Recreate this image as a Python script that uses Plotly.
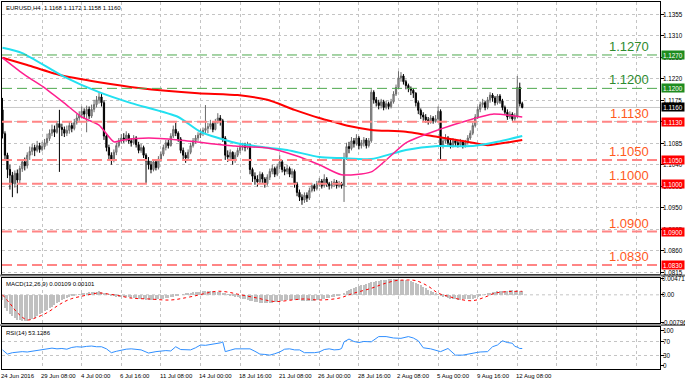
import plotly.graph_objects as go

# ---------------- data (prices in pips above 1.0900) ----------------
BASE = 1.0900
open0 = 255
close_p = [205,160,130,118,100,122,108,132,146,138,160,168,176,170,180,172,178,186,195,206,
           214,208,226,218,214,206,212,222,216,228,238,244,252,246,256,242,256,266,276,282,
           270,200,176,160,150,166,180,190,196,194,202,190,186,196,182,170,176,160,148,140,
           130,146,134,152,162,176,186,180,200,214,206,194,170,160,154,166,180,190,196,202,
           206,212,216,220,226,214,230,238,232,196,160,156,166,150,160,170,176,180,176,182,
           130,116,110,104,120,110,100,114,126,132,120,136,146,130,126,132,120,126,100,82,
           72,66,76,70,86,96,90,100,106,96,110,100,96,98,104,96,100,96,155,178,
           174,190,184,196,180,186,192,180,190,292,276,270,264,272,260,268,262,272,288,302,
           322,326,314,306,300,296,290,270,254,244,240,234,230,238,232,236,252,180,190,196,
           186,180,190,186,182,188,180,186,196,206,222,240,256,266,270,260,276,286,280,270,
           284,274,260,250,240,246,236,242,302,268,260]
high_p = [280,210,165,140,125,128,130,138,152,155,166,178,184,182,190,186,188,194,205,214,
          224,222,232,255,226,220,222,230,228,236,246,252,262,258,264,262,266,276,284,292,
          288,275,204,182,166,172,186,196,204,206,210,206,196,202,200,188,184,180,164,156,
          148,152,150,158,168,182,192,192,206,222,228,210,198,176,166,172,186,196,202,208,
          214,218,265,228,234,230,236,248,244,236,200,170,172,168,166,176,184,186,186,188,
          184,134,124,118,126,124,114,120,132,140,136,142,160,150,136,140,136,132,130,104,
          88,78,82,82,92,102,100,106,112,110,120,114,104,106,110,108,106,104,165,186,
          188,198,196,204,200,192,198,196,196,298,296,282,276,278,276,274,272,278,294,308,
          336,334,330,318,310,304,300,292,274,258,250,246,240,244,242,244,262,256,198,204,
          200,192,196,194,192,194,192,192,202,212,228,246,262,272,278,274,282,292,290,284,
          288,288,278,264,256,252,250,248,326,312,272]
low_p = [195,150,112,88,72,92,80,100,125,128,132,150,160,158,166,165,168,172,180,190,
         200,198,205,125,200,198,200,205,208,212,224,232,238,236,208,236,238,250,260,268,
         262,192,168,150,140,145,160,176,184,186,188,184,178,182,176,164,165,154,102,130,
         122,126,128,130,146,158,170,174,178,196,200,188,164,152,144,150,162,176,184,190,
         196,200,206,206,214,208,212,226,222,188,150,146,150,140,144,156,164,170,168,172,
         120,104,98,94,100,102,92,96,108,120,114,116,130,124,118,120,114,112,92,74,
         64,56,60,62,66,82,84,86,94,90,92,94,88,90,94,90,92,90,62,150,
         164,170,176,180,172,174,178,174,176,186,268,262,256,258,254,256,256,258,268,284,
         298,314,308,298,292,286,280,262,246,236,232,228,224,226,226,228,232,150,174,184,
         180,174,176,178,176,178,174,176,182,192,202,218,236,250,260,254,256,270,272,264,
         266,268,254,244,234,236,232,232,238,262,258]

# moving averages (bar index, pips above 1.0900)
ma_red_idx = [0, 10, 23, 39, 55, 79, 95, 107, 118, 128, 135, 140, 149, 163, 176, 190, 196, 210]
ma_red_val = [364, 349, 328, 313, 301, 290, 286, 276, 255, 238, 228, 221, 213, 209, 198, 186, 181, 192]
ma_cyan_idx = [0, 8, 25, 39, 52, 71, 80, 94, 105, 115, 128, 137, 149, 163, 176, 190, 200, 210]
ma_cyan_val = [385, 374, 324, 292, 269, 240, 209, 186, 177, 171, 156, 154, 152, 171, 179, 179, 188, 200]
ma_mag_idx = [0, 8, 12, 17, 25, 32, 39, 45, 49, 59, 71, 94, 107, 118, 128, 137, 149, 163, 176, 190, 198, 210]
ma_mag_val = [364, 332, 318, 301, 269, 240, 223, 188, 192, 196, 192, 179, 175, 160, 140, 119, 125, 186, 213, 236, 246, 240]

# MACD main (x1e-5) per bar
macd_main = [-150,-380,-480,-560,-620,-680,-720,-745,-760,-760,-750,-730,-710,-670,-620,-570,-520,-480,-440,-395,
             -350,-300,-250,-200,-150,-120,-90,-60,-40,-20,0,20,35,50,60,70,80,90,95,100,
             90,60,30,10,-10,-30,-50,-60,-60,-65,-70,-75,-80,-90,-100,-110,-120,-130,-140,-150,
             -150,-145,-140,-130,-120,-110,-95,-80,-65,-50,-30,-15,0,15,30,45,60,70,80,90,
             95,100,105,110,110,105,95,85,70,50,30,10,-10,-30,-50,-70,-90,-110,-130,-150,
             -170,-190,-205,-220,-230,-240,-245,-245,-240,-230,-215,-200,-185,-170,-155,-145,-140,-140,-145,-150,
             -160,-170,-180,-185,-185,-180,-170,-160,-145,-130,-115,-100,-85,-70,-55,-40,-20,0,50,100,
             140,170,190,220,250,280,300,320,340,360,380,400,410,420,430,440,450,455,455,450,
             450,445,435,425,415,390,360,340,320,280,240,200,150,110,80,50,20,-20,-50,-70,
             -90,-110,-125,-135,-140,-140,-135,-130,-125,-120,-110,-80,-50,-20,0,20,40,60,75,90,
             100,110,115,120,125,130,130,125,130,120,109]
sig_idx = [0,3,6,10,14,18,22,25,28,32,36,39,43,46,52,59,68,74,79,83,87,91,95,103,110,117,122,128,136,
           142,149,154,159,163,167,172,176,180,184,190,195,199,206,210]
sig_val = [0,-250,-520,-730,-650,-520,-330,-200,-110,-40,20,55,20,-10,-95,-120,-150,-85,-10,60,105,80,20,-95,-195,-150,-120,-150,-95,
           50,190,320,414,430,414,250,50,-40,-120,-170,-65,50,100,101]

# RSI(14)
rsi_idx = [0,2,4,6,8,10,12,14,16,18,20,22,24,26,28,30,32,34,36,38,40,42,44,46,48,50,52,54,56,58,59,62,64,66,68,70,72,74,
           76,78,80,82,84,86,88,89,90,92,94,96,98,100,102,104,106,108,110,112,114,116,118,120,122,124,126,128,130,132,134,136,137,
           138,140,142,144,146,148,149,152,155,158,161,164,166,168,170,173,175,176,177,180,183,186,188,190,192,193,196,198,200,202,204,206,207,208,209,210]
rsi_val = [46,34,38,40,41,40,42,44,46,47,51,49,50,48,53,55,54,56,57,55,55,49,38,42,46,48,49,47,46,40,37,41,43,44,43,55,47,46,
           46,52,60,59,61,63,66,69,41,45,49,49,48,49,42,34,33,31,35,40,48,49,46,46,38,37,38,40,47,49,46,47,50,
           69,77,70,67,70,68,69,84,84,80,79,84,80,72,52,49,46,44,41,50,31,31,34,38,39,40,41,55,60,72,67,65,56,54,50,50,69,62,53]

tick_vals = [1.1355, 1.1310, 1.1265, 1.1220, 1.1175, 1.1130, 1.1085, 1.1040, 1.0995, 1.0950, 1.0905, 1.0860, 1.0815]
levels_green = [1.1270, 1.1200]
levels_red = [1.1130, 1.1050, 1.1000, 1.0900, 1.0830]
bid = 1.1160
macd_ticks = [0.00471, 0.0, -0.00796]
macd_tick_text = ["0.00471", "0.00", "-0.00796"]
rsi_ticks = [100, 70, 30, 0]
time_idx = [0,16,32,48,64,80,96,112,128,144,160,176,192,208]
time_lbl = ["24 Jun 2016","29 Jun 08:00","4 Jul 00:00","6 Jul 16:00","11 Jul 08:00","14 Jul 00:00",
            "18 Jul 16:00","21 Jul 08:00","26 Jul 00:00","28 Jul 16:00","2 Aug 08:00","5 Aug 00:00",
            "9 Aug 16:00","12 Aug 08:00"]
grid_idx = [0,16,32,48,64,80,96,112,128,144,160,176,192,208,224,240,256]

# ---------------- build ----------------
n = len(close_p)
xs = list(range(n))
C = [BASE + v / 1e4 for v in close_p]
H = [BASE + v / 1e4 for v in high_p]
L = [BASE + v / 1e4 for v in low_p]
O = [BASE + open0 / 1e4] + C[:-1]
O[-1] = 1.1168

FONT = "Liberation Sans"
fig = go.Figure()
fig.add_trace(go.Candlestick(x=xs, open=O, high=H, low=L, close=C,
                             increasing=dict(line=dict(color="#6a6a6a", width=1), fillcolor="#b0b0b0"),
                             decreasing=dict(line=dict(color="#000000", width=1), fillcolor="#000000"),
                             whiskerwidth=0, xaxis="x", yaxis="y", showlegend=False, hoverinfo="skip"))
fig.add_trace(go.Scatter(x=ma_red_idx, y=[BASE + v / 1e4 for v in ma_red_val], mode="lines",
                         line=dict(color="#ff0000", width=2, shape="spline", smoothing=0.6), xaxis="x", yaxis="y"))
fig.add_trace(go.Scatter(x=ma_cyan_idx, y=[BASE + v / 1e4 for v in ma_cyan_val], mode="lines",
                         line=dict(color="#22e0f0", width=2, shape="spline", smoothing=0.6), xaxis="x", yaxis="y"))
fig.add_trace(go.Scatter(x=ma_mag_idx, y=[BASE + v / 1e4 for v in ma_mag_val], mode="lines",
                         line=dict(color="#ff1f8f", width=1.5, shape="spline", smoothing=0.6), xaxis="x", yaxis="y"))

fig.add_trace(go.Bar(x=xs, y=[v / 1e5 for v in macd_main], marker=dict(color="#c0c0c0", line=dict(width=0)),
                     width=0.42, xaxis="x2", yaxis="y2"))
fig.add_trace(go.Scatter(x=sig_idx, y=[v / 1e5 for v in sig_val], mode="lines",
                         line=dict(color="#ff0000", width=1, dash="dot", shape="spline"), xaxis="x2", yaxis="y2"))
fig.add_trace(go.Scatter(x=rsi_idx, y=rsi_val, mode="lines", line=dict(color="#2f8fff", width=1),
                         xaxis="x3", yaxis="y3"))

XR = [-0.2, 265.66]
gridc = "#c4c4c4"
xcommon = dict(range=XR, showticklabels=False, tickvals=grid_idx, showgrid=True, griddash="dot",
               gridcolor=gridc, gridwidth=1, zeroline=False, showline=True, linecolor="#000", mirror=True,
               ticks="", automargin=False)
ycommon = dict(side="right", showticklabels=False, zeroline=False, ticks="outside", ticklen=3,
               tickcolor="#000", showline=True, linecolor="#000", mirror=True, automargin=False)
fig.update_layout(
    width=685, height=383, margin=dict(l=2, r=25, t=2, b=14, autoexpand=False),
    paper_bgcolor="#ffffff", plot_bgcolor="#ffffff", showlegend=False, bargap=0,
    font=dict(family=FONT, size=6, color="#000"),
    xaxis=dict(anchor="y", rangeslider=dict(visible=False), **xcommon),
    xaxis2=dict(anchor="y2", matches="x", **xcommon),
    xaxis3=dict(anchor="y3", matches="x", **xcommon),
    yaxis=dict(domain=[0.25886, 1], range=[1.0811, 1.1381], tickvals=tick_vals,
               showgrid=True, griddash="dot", gridcolor=gridc, **ycommon),
    yaxis2=dict(domain=[0.12534, 0.24796], range=[-0.0082, 0.0049], tickvals=macd_ticks,
                showgrid=False, **ycommon),
    yaxis3=dict(domain=[0, 0.11444], range=[-8.6, 111.4], tickvals=rsi_ticks,
                showgrid=False, **ycommon),
)

shapes = []
for lv in levels_green:
    shapes.append(dict(type="line", xref="x", yref="y", x0=XR[0], x1=XR[1], y0=lv, y1=lv,
                       line=dict(color="#4ea84e", width=1, dash="10px,5px")))
for lv in levels_red:
    shapes.append(dict(type="line", xref="x", yref="y", x0=XR[0], x1=XR[1], y0=lv, y1=lv,
                       line=dict(color="#ff8585", width=2, dash="10px,5px")))
shapes.append(dict(type="line", xref="x", yref="y", x0=XR[0], x1=XR[1], y0=bid, y1=bid,
                   line=dict(color="#c8c8c8", width=1), layer="below"))
shapes.append(dict(type="line", xref="x2", yref="y2", x0=XR[0], x1=XR[1], y0=0, y1=0,
                   line=dict(color=gridc, width=1, dash="dot"), layer="below"))
for lv in [70, 30]:
    shapes.append(dict(type="line", xref="x3", yref="y3", x0=XR[0], x1=XR[1], y0=lv, y1=lv,
                       line=dict(color=gridc, width=1, dash="dot"), layer="below"))
for y0, y1 in [(0.2523, 0.2575), (0.1170, 0.1222)]:
    shapes.append(dict(type="rect", xref="paper", yref="paper", x0=-0.004, x1=1.04, y0=y0, y1=y1,
                       line=dict(width=0), fillcolor="#7a7a7a"))
fig.update_layout(shapes=shapes)

TF = dict(size=6.3, family=FONT, color="#000")
SF = dict(size=6, family=FONT, color="#000")
ann = []
for v in tick_vals:
    ann.append(dict(xref="paper", yref="y", x=1.0, y=v, xanchor="left", yanchor="middle", xshift=2,
                    text=f"{v:.4f}", showarrow=False, font=TF, borderpad=0))
for v, t in zip(macd_ticks, macd_tick_text):
    ann.append(dict(xref="paper", yref="y2", x=1.0, y=v, xanchor="left", yanchor="middle", xshift=1,
                    text=t, showarrow=False, font=TF, borderpad=0))
for v in rsi_ticks:
    ann.append(dict(xref="paper", yref="y3", x=1.0, y=v, xanchor="left", yanchor="middle", xshift=2,
                    text=str(v), showarrow=False, font=TF, borderpad=0))
for lv in levels_green:
    ann.append(dict(xref="paper", yref="y", x=0.987, y=lv, xanchor="right", yanchor="bottom", yshift=-1,
                    text=f"{lv:.4f}", showarrow=False, font=dict(size=13, color="#2e8b2e", family=FONT)))
    ann.append(dict(xref="paper", yref="y", x=1.0, y=lv, xanchor="left", yanchor="middle", xshift=1,
                    text=f"{lv:.4f}", showarrow=False, bgcolor="#1f8c1f", width=22, height=8, borderpad=0,
                    font=dict(size=6.3, color="#ffffff", family=FONT)))
for lv in levels_red:
    ann.append(dict(xref="paper", yref="y", x=0.987, y=lv, xanchor="right", yanchor="bottom", yshift=-1,
                    text=f"{lv:.4f}", showarrow=False, font=dict(size=13, color="#ff5a1e", family=FONT)))
    ann.append(dict(xref="paper", yref="y", x=1.0, y=lv, xanchor="left", yanchor="middle", xshift=1,
                    text=f"{lv:.4f}", showarrow=False, bgcolor="#ff0000", width=22, height=8, borderpad=0,
                    font=dict(size=6.3, color="#ffffff", family=FONT)))
ann.append(dict(xref="paper", yref="y", x=1.0, y=bid, xanchor="left", yanchor="middle", xshift=1,
                text=f"{bid:.4f}", showarrow=False, bgcolor="#000000", width=22, height=8, borderpad=0,
                font=dict(size=6.3, color="#ffffff", family=FONT)))
ann.append(dict(xref="paper", yref="paper", x=0, y=1, xanchor="left", yanchor="top", xshift=2, yshift=-1,
                text="EURUSD,H4  1.1168 1.1172 1.1158 1.1160", showarrow=False, font=SF))
ann.append(dict(xref="paper", yref="paper", x=0, y=0.24796, xanchor="left", yanchor="top", xshift=2, yshift=-1,
                text="MACD(12,26,9) 0.00109 0.00101", showarrow=False, font=SF))
ann.append(dict(xref="paper", yref="paper", x=0, y=0.11444, xanchor="left", yanchor="top", xshift=2, yshift=-1,
                text="RSI(14) 53.1286", showarrow=False, font=SF))
for i, t in zip(time_idx, time_lbl):
    ann.append(dict(xref="x3", yref="paper", x=i, y=0, xanchor="left", yanchor="middle", xshift=-2, yshift=-7,
                    text=t, showarrow=False, font=SF, borderpad=0))
fig.update_layout(annotations=ann)

fig.write_html("out.html", config={"displayModeBar": False},
               post_script="document.body.style.margin='0';document.body.style.padding='0';")
